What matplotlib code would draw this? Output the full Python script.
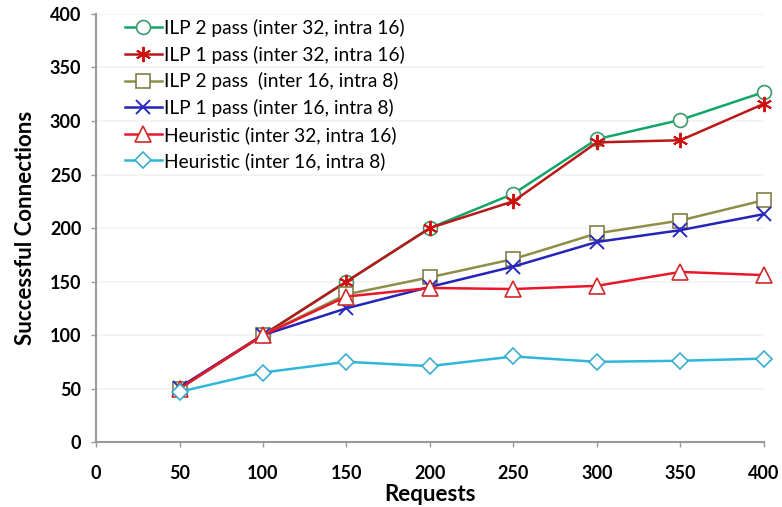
import matplotlib
matplotlib.use("Agg")
import matplotlib.pyplot as plt

plt.rcParams['font.family'] = ['Lato', 'DejaVu Sans']

requests = [50, 100, 150, 200, 250, 300, 350, 400]

ilp2_32_16 = [50, 100, 150, 200, 232, 283, 301, 327]
ilp1_32_16 = [51, 100, 150, 200, 225, 280, 282, 316]
ilp2_16_8 = [50, 100, 138, 154, 171, 195, 207, 226]
ilp1_16_8 = [51, 100, 125, 145, 164, 187, 198, 213]
heur_32_16 = [50, 100, 136, 144, 143, 146, 159, 156]
heur_16_8 = [47, 65, 75, 71, 80, 75, 76, 78]

labels = [
    "ILP 2 pass (inter 32, intra 16)",
    "ILP 1 pass (inter 32, intra 16)",
    "ILP 2 pass  (inter 16, intra 8)",
    "ILP 1 pass (inter 16, intra 8)",
    "Heuristic (inter 32, intra 16)",
    "Heuristic (inter 16, intra 8)",
]

x_ticks = [0, 50, 100, 150, 200, 250, 300, 350, 400]
y_ticks = [0, 50, 100, 150, 200, 250, 300, 350, 400]

series = [ilp2_32_16, ilp1_32_16, ilp2_16_8, ilp1_16_8, heur_32_16, heur_16_8]
styles = [
    dict(color='#12a56a', marker='o', markersize=10, mfc='white', mec='#3a9a70', mew=1.2),
    dict(color='#b81818', marker=(6, 2, 0), markersize=11, mec='#d01010', mew=1.4),
    dict(color='#8e8e48', marker='s', markersize=10, mfc='white', mec='#7f7f45', mew=1.2),
    dict(color='#2424b8', marker='x', markersize=10, mec='#2a2ac0', mew=1.4),
    dict(color='#e8172a', marker='^', markersize=11, mfc='white', mec='#d02a2a', mew=1.2),
    dict(color='#2fb6d8', marker='D', markersize=8, mfc='white', mec='#3aaed0', mew=1.2),
]

fig = plt.figure(figsize=(7.82, 5.07), dpi=100)
ax = fig.add_axes([0.1228, 0.128, 0.854, 0.8445])

for vals, lab, st in zip(series, labels, styles):
    ax.plot(requests, vals, linewidth=1.8, label=lab, clip_on=False, **st)

ax.set_xlim(0, 400)
ax.set_ylim(0, 400)
ax.set_xticks(x_ticks)
ax.set_yticks(y_ticks)
ax.tick_params(axis='both', direction='out', length=3.6, width=1, color='#999999',
               labelsize=13)
for lbl in ax.get_xticklabels() + ax.get_yticklabels():
    lbl.set_fontweight('bold')
ax.tick_params(axis='x', pad=13)
ax.tick_params(axis='y', pad=7)

ax.yaxis.grid(True, color='#f2f2f2', linewidth=1.2)
ax.set_axisbelow(True)

for side in ('top', 'right'):
    ax.spines[side].set_visible(False)
for side in ('left', 'bottom'):
    ax.spines[side].set_color('#999999')
    ax.spines[side].set_linewidth(1.5)

ax.set_xlabel("Requests", fontsize=16, fontweight='bold', labelpad=1)
ax.set_ylabel("Successful Connections", fontsize=16, fontweight='bold', labelpad=10)

ax.legend(loc='upper left', bbox_to_anchor=(125 / 782, 1 - 19 / 507),
          bbox_transform=fig.transFigure, frameon=False,
          fontsize=13.8, handlelength=1.93, handletextpad=0.1, labelspacing=0.45,
          borderaxespad=0.0, borderpad=0.0)

fig.savefig("out.png", dpi=100)
